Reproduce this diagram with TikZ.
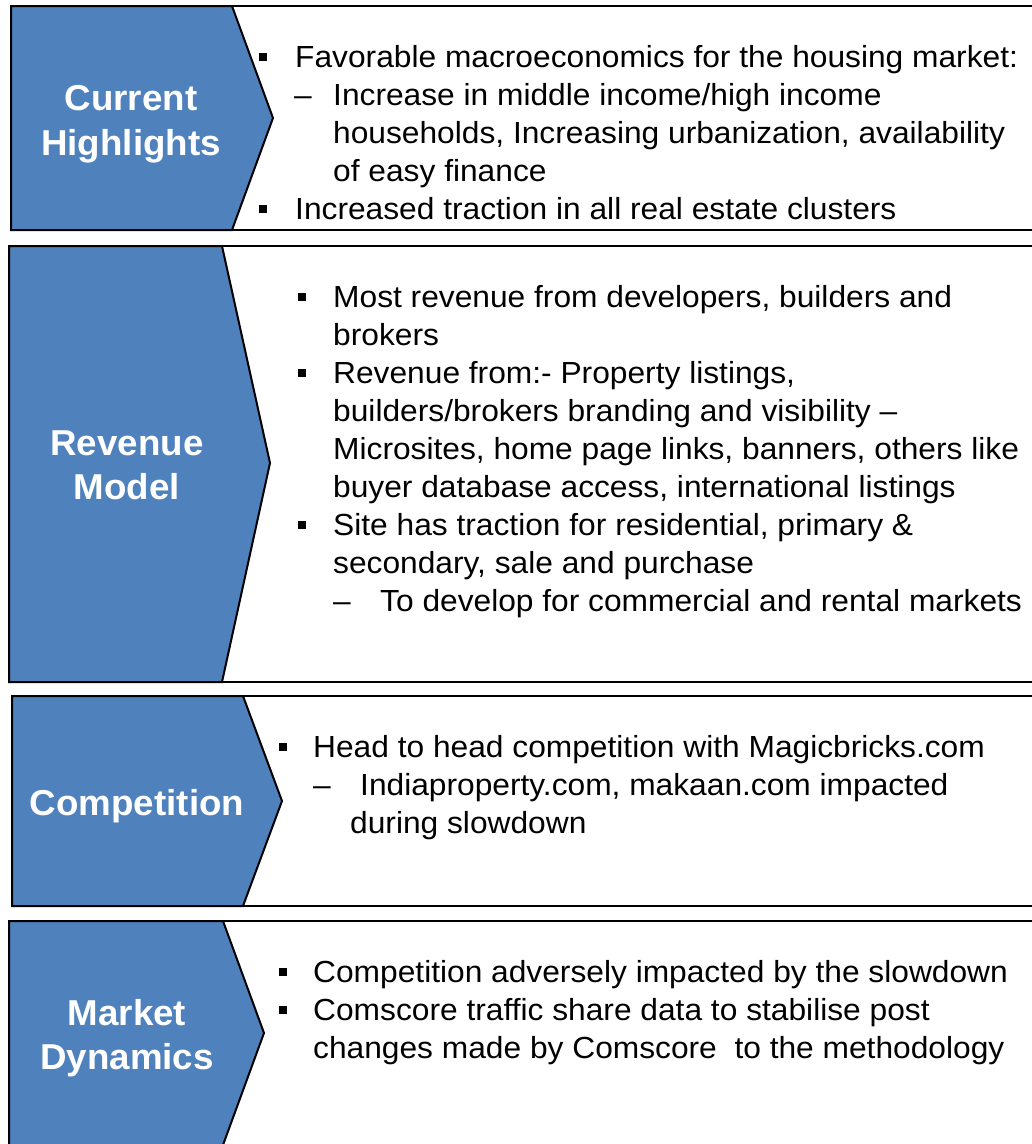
\documentclass[tikz,border=0pt]{standalone}
\usepackage{fontspec}
\setmainfont{Liberation Sans}[FakeStretch=1.04]
\newfontfamily\headfont{Liberation Sans}[FakeStretch=1.02]
\definecolor{tabblue}{RGB}{79,129,189}

\begin{document}
\begin{tikzpicture}[x=1pt,y=-1pt,
    panel/.style={draw=black,line width=2pt,fill=white},
    tab/.style={draw=black,line width=2pt,fill=tabblue,line join=miter},
    head/.style={anchor=base,text=white,inner sep=0pt,font=\headfont\fontsize{36}{45}\selectfont\bfseries},
    txt/.style={anchor=base west,inner sep=0pt,font=\fontsize{30.5}{38}\selectfont},
    blt/.style={fill=black,inner sep=0pt,minimum size=8.5pt}]
    \useasboundingbox (0,0) rectangle (1032,1144);
    \clip (0,0) rectangle (1032,1144);

    % current highlights
    \draw[panel] (11,6) rectangle (1045,230);
    \draw[tab] (11,6) -- (232,6) -- (273,118) -- (232,230) -- (11,230) -- cycle;
    \node[head] (ch1) at (131,110) {Current};
    \node[head] (ch2) at (131,155) {Highlights};
    \node[blt] (cb1) at (263,57) {};
    \node[txt] (c1) at (295,67) {Favorable macroeconomics for the housing market:};
    \node[txt] (cd1) at (294,105) {–};
    \node[txt] (c2) at (333,105) {Increase in middle income/high income};
    \node[txt] (c3) at (333,143) {households, Increasing urbanization, availability};
    \node[txt] (c4) at (333,181) {of easy finance};
    \node[blt] (cb2) at (263,209) {};
    \node[txt] (c5) at (295,219) {Increased traction in all real estate clusters};

    % revenue model
    \draw[panel] (9,246) rectangle (1045,682);
    \draw[tab] (9,246) -- (222,246) -- (270,463) -- (222,682) -- (9,682) -- cycle;
    \node[head] (rh1) at (127,455) {Revenue};
    \node[head] (rh2) at (127,499) {Model};
    \node[blt] (rb1) at (302,297) {};
    \node[txt] (r1) at (333,307) {Most revenue from developers, builders and};
    \node[txt] (r2) at (333,345) {brokers};
    \node[blt] (rb2) at (302,373) {};
    \node[txt] (r3) at (333,383) {Revenue from:- Property listings,};
    \node[txt] (r4) at (333,421) {builders/brokers branding and visibility –};
    \node[txt] (r5) at (333,459) {Microsites, home page links, banners, others like};
    \node[txt] (r6) at (333,497) {buyer database access, international listings};
    \node[blt] (rb3) at (302,525) {};
    \node[txt] (r7) at (333,535) {Site has traction for residential, primary \&};
    \node[txt] (r8) at (333,573) {secondary, sale and purchase};
    \node[txt] (rd1) at (333,611) {–};
    \node[txt] (r9) at (380,611) {To develop for commercial and rental markets};

    % competition
    \draw[panel] (12,696) rectangle (1045,906);
    \draw[tab] (12,696) -- (243,696) -- (282,801) -- (243,906) -- (12,906) -- cycle;
    \node[head] (kh1) at (137,815) {Competition};
    \node[blt] (kb1) at (283,747) {};
    \node[txt] (k1) at (313,757) {Head to head competition with Magicbricks.com};
    \node[txt] (kd1) at (313,795) {–};
    \node[txt] (k2) at (360,795) {Indiaproperty.com, makaan.com impacted};
    \node[txt] (k3) at (350,833) {during slowdown};

    % market dynamics
    \draw[panel] (9,921) rectangle (1045,1150);
    \draw[tab] (9,921) -- (223,921) -- (264,1033) -- (223,1145) -- (9,1145) -- cycle;
    \node[head] (mh1) at (127,1025) {Market};
    \node[head] (mh2) at (127,1069) {Dynamics};
    \node[blt] (mb1) at (283,972) {};
    \node[txt] (m1) at (313,982) {Competition adversely impacted by the slowdown};
    \node[blt] (mb2) at (283,1010) {};
    \node[txt] (m2) at (313,1020) {Comscore traffic share data to stabilise post};
    \node[txt] (m3) at (313,1058) {changes made by Comscore\ \ to the methodology};
\end{tikzpicture}
\end{document}
